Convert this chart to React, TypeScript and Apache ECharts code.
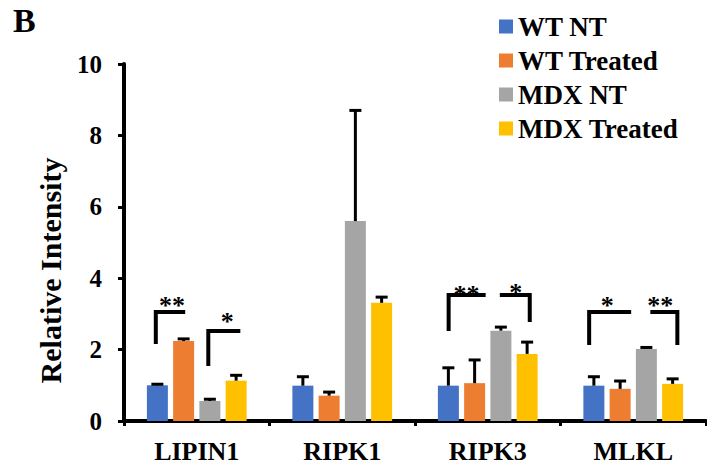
import React, { useEffect, useRef } from "react";
import * as echarts from "echarts";

const categories = ["LIPIN1", "RIPK1", "RIPK3", "MLKL"];
const seriesNames = ["WT NT", "WT Treated", "MDX NT", "MDX Treated"];
const colors = ["#4472C4", "#ED7D31", "#A5A5A5", "#FFC000"];

const wtNT = [1.0, 0.99, 0.99, 0.99];
const wtTreated = [2.24, 0.71, 1.06, 0.9];
const mdxNT = [0.56, 5.6, 2.53, 2.02];
const mdxTreated = [1.13, 3.31, 1.88, 1.04];

const wtNTErr = [0.03, 0.25, 0.5, 0.25];
const wtTreatedErr = [0.06, 0.1, 0.65, 0.22];
const mdxNTErr = [0.05, 3.1, 0.1, 0.04];
const mdxTreatedErr = [0.15, 0.16, 0.33, 0.14];

const yTicks = [0, 2, 4, 6, 8, 10];

// significance brackets: [category, topValue, fromSlot, toSlot, leftLegValue, rightLegValue] (-1 = no leg)
const brackets = [
  [0, 3.05, -1.56, -0.44, 2.16, -1],
  [0, 2.52, 0.44, 1.66, 1.54, -1],
  [2, 3.53, -1.49, -0.08, 2.52, -1],
  [2, 3.53, 0.46, 1.6, -1, 2.77],
  [3, 3.05, -1.68, -0.08, 2.13, -1],
  [3, 3.05, 0.65, 1.68, -1, 2.13],
];
// stars: [category, slot, value, label]
const stars: [number, number, number, string][] = [
  [0, -0.94, 3.46, "**"],
  [0, 1.16, 3.0, "*"],
  [2, -0.81, 3.76, "**"],
  [2, 1.07, 3.81, "*"],
  [3, -0.99, 3.47, "*"],
  [3, 1.03, 3.47, "**"],
];

const means = [wtNT, wtTreated, mdxNT, mdxTreated];
const errs = [wtNTErr, wtTreatedErr, mdxNTErr, mdxTreatedErr];

const FONT = '"Liberation Serif", "Times New Roman", serif';
const BAR_W = 21;
const PITCH = BAR_W * 1.25;

export default function App() {
  const ref = useRef<HTMLDivElement>(null);
  useEffect(() => {
    if (!ref.current) return;
    const chart = echarts.init(ref.current, null, { renderer: "svg" });

    const barSeries = seriesNames.map((name, i) => ({
      name,
      type: "bar",
      data: means[i],
      barWidth: BAR_W,
      barGap: "25%",
      itemStyle: { color: colors[i] },
      z: 2,
    }));

    const errSeries = seriesNames.map((name, i) => ({
      name: name + " err",
      type: "custom",
      z: 3,
      data: categories.map((_, c) => [c, means[i][c], errs[i][c]]),
      encode: { x: 0, y: 1 },
      renderItem: (params: any, api: any) => {
        const c = api.value(0);
        const m = api.value(1);
        const e = api.value(2);
        const base = api.coord([c, m]);
        const top = api.coord([c, m + e]);
        const x = base[0] + (i - 1.5) * PITCH;
        return {
          type: "group",
          children: [
            {
              type: "line",
              shape: { x1: x, y1: base[1], x2: x, y2: top[1] },
              style: { stroke: "#000", lineWidth: 3 },
            },
            {
              type: "line",
              shape: { x1: x - 6, y1: top[1], x2: x + 6, y2: top[1] },
              style: { stroke: "#000", lineWidth: 3 },
            },
          ],
        };
      },
    }));

    const bracketSeries = {
      type: "custom",
      z: 4,
      data: brackets,
      encode: { x: 0, y: 1 },
      renderItem: (params: any, api: any) => {
        const c = api.value(0);
        const topV = api.value(1);
        const s1 = api.value(2);
        const s2 = api.value(3);
        const l = api.value(4);
        const r = api.value(5);
        const center = api.coord([c, topV]);
        const x1 = center[0] + s1 * PITCH;
        const x2 = center[0] + s2 * PITCH;
        const pts: number[][] = [];
        if (l >= 0) pts.push([x1, api.coord([c, l])[1]]);
        pts.push([x1, center[1]]);
        pts.push([x2, center[1]]);
        if (r >= 0) pts.push([x2, api.coord([c, r])[1]]);
        return {
          type: "polyline",
          shape: { points: pts },
          style: { stroke: "#000", lineWidth: 4, fill: "none", lineJoin: "miter", lineCap: "butt" },
        };
      },
    };

    const starSeries = {
      type: "custom",
      z: 4,
      data: stars,
      encode: { x: 0, y: 2 },
      renderItem: (params: any, api: any) => {
        const c = api.value(0);
        const s = api.value(1);
        const v = api.value(2);
        const p = api.coord([c, v]);
        return {
          type: "text",
          x: p[0] + s * PITCH,
          y: p[1] + 8,
          style: {
            text: stars[params.dataIndex][3],
            font: `bold 26px ${FONT}`,
            fill: "#000",
            align: "center",
            verticalAlign: "middle",
          },
        };
      },
    };

    chart.setOption({
      animation: false,
      backgroundColor: "#fff",
      grid: { left: 124, right: 1, top: 64, bottom: 48, containLabel: false },
      legend: {
        data: seriesNames,
        orient: "vertical",
        left: 499,
        top: 13,
        padding: 0,
        itemWidth: 14,
        itemHeight: 14,
        itemGap: 7,
        icon: "rect",
        textStyle: {
          fontFamily: FONT,
          fontWeight: "bold",
          fontSize: 27,
          lineHeight: 26,
          color: "#000",
          padding: [0, 0, 0, 0],
        },
      },
      graphic: [
        {
          type: "text",
          left: 13,
          top: 3,
          style: { text: "B", font: `bold 34px ${FONT}`, fill: "#000" },
        },
      ],
      xAxis: {
        type: "category",
        data: categories,
        axisLine: { lineStyle: { color: "#000", width: 4 } },
        axisTick: { show: true, length: 5, lineStyle: { color: "#000", width: 3 } },
        axisLabel: {
          fontFamily: FONT,
          fontWeight: "bold",
          fontSize: 26,
          color: "#000",
          margin: 17,
        },
      },
      yAxis: {
        type: "value",
        min: yTicks[0],
        max: yTicks[yTicks.length - 1],
        interval: 2,
        name: "Relative Intensity",
        nameLocation: "middle",
        nameGap: 59,
        nameTextStyle: {
          fontFamily: FONT,
          fontWeight: "bold",
          fontSize: 30,
          color: "#000",
          padding: [0, 56, 0, 0],
        },
        axisLine: { show: true, lineStyle: { color: "#000", width: 4 } },
        axisTick: { show: true, length: 6, lineStyle: { color: "#000", width: 3 } },
        splitLine: { show: false },
        axisLabel: {
          fontFamily: FONT,
          fontWeight: "bold",
          fontSize: 25,
          color: "#000",
          margin: 22,
        },
      },
      series: [...barSeries, ...errSeries, bracketSeries, starSeries],
    });

    return () => chart.dispose();
  }, []);

  return (
    <div
      ref={ref}
      style={{ position: "absolute", left: 0, top: 0, width: 707, height: 469 }}
    />
  );
}
